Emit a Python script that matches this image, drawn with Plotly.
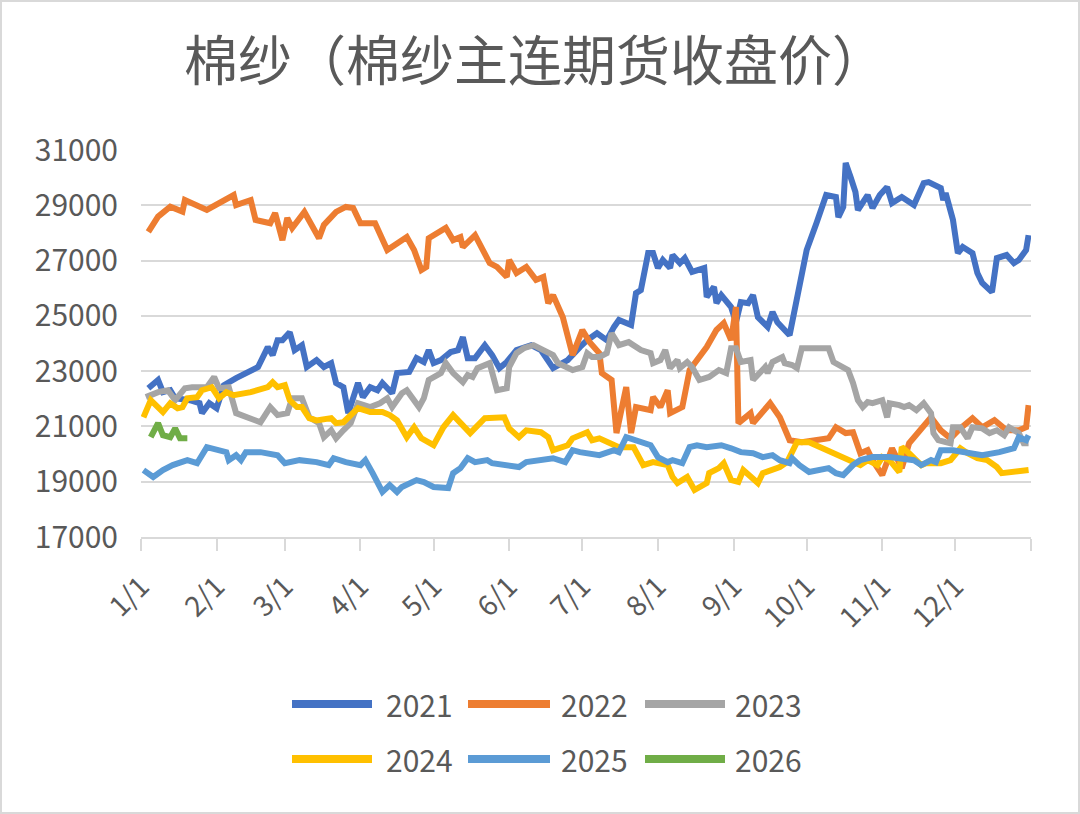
import plotly.graph_objects as go
import pandas as pd

# ---------------- data (day-of-year offset from Jan 1, close price) ----------------
series_names = ["2021", "2022", "2023", "2024", "2025", "2026"]
series_colors = ["#4472C4", "#ED7D31", "#A5A5A5", "#FFC000", "#5B9BD5", "#70AD47"]

s2021 = [(3,22380),(7,22680),(9,22240),(12,22310),(14,22020),(20,21950),(24,21840),(25,21480),
         (28,21840),(31,21660),(34,22490),(39,22750),(48,23150),(52,23870),(54,23580),(56,24120),
         (58,24120),(61,24410),(63,23760),(66,23940),(68,23150),(72,23400),(75,23150),(78,23290),
         (80,22570),(83,22420),(85,21480),(89,22570),(91,22060),(94,22420),(97,22310),(99,22570),
         (103,22200),(105,22930),(110,22970),(113,23470),(116,23330),(118,23760),(120,23290),
         (123,23400),(127,23690),(130,23760),(132,24230),(134,23470),(137,23470),(141,23940),
         (144,23580),(147,23110),(150,23330),(154,23760),(160,23940),(164,23760),(169,23110),
         (175,23400),(180,23870),(183,24120),(187,24370),(191,24120),(194,24600),(196,24850),
         (201,24670),(203,25820),(205,25930),(208,27270),(210,27270),(212,26730),(214,27020),
         (217,26730),(218,27200),(221,26910),(223,27090),(226,26590),(231,26730),(232,25680),
         (235,26050),(236,25460),(238,25750),(242,25320),(244,24770),(246,25500),(249,25460),
         (251,25750),(253,24950),(257,24600),(259,25140),(261,24770),(266,24300),(269,25680),
         (271,26410),(273,27380),(277,28350),(281,29370),(285,29300),(286,28570),(288,28940),
         (289,30530),(291,30020),(293,29480),(294,28830),(298,29370),(300,28900),(303,29370),
         (306,29660),(308,29080),(312,29300),(317,29010),(321,29800),(323,29840),(328,29620),
         (329,29190),(330,29440),(333,28470),(335,27270),(337,27490),(341,27270),(343,26550),
         (345,26190),(349,25860),(351,27090),(355,27200),(358,26910),(360,27020),(363,27380),
         (364,27920)]

s2022 = [(3,28040),(7,28590),(12,28950),(17,28770),(18,29190),(27,28830),(38,29370),(39,29010),
         (45,29190),(47,28470),(53,28350),(55,28720),(58,27740),(60,28540),(62,28180),(67,28760),
         (73,27810),(75,28290),(80,28760),(84,28940),(87,28900),(90,28350),(96,28350),(101,27380),
         (109,27850),(112,27380),(115,26660),(117,26770),(118,27810),(125,28180),(128,27740),
         (131,27850),(132,27490),(137,27920),(143,26910),(146,26770),(150,26410),(151,27020),
         (154,26550),(158,26770),(162,26300),(165,26410),(167,25460),(169,25750),(173,24950),
         (175,24230),(177,23580),(181,24490),(184,24050),(188,23650),(189,22930),(193,22680),
         (195,20760),(199,22420),(201,20760),(203,21700),(209,21590),(210,22060),(213,21700),
         (216,22310),(217,21480),(222,21700),(225,23040),(232,23870),(236,24490),(239,24740),
         (242,24120),(244,25320),(245,21120),(250,21480),(251,21120),(258,21840),(262,21330),
         (266,20500),(271,20430),(282,20570),(285,20970),(289,20760),(292,20790),(295,20030),
         (298,20140),(300,19780),(304,19240),(308,20210),(312,19490),(315,20390),(321,20970),
         (324,21330),(328,20860),(332,20570),(336,20930),(341,21300),(345,20970),(350,21230),
         (355,20860),(360,20860),(363,20970),(364,21770)]

s2023 = [(2,22060),(7,22240),(11,22310),(14,21950),(18,22380),(21,22420),(27,22420),(30,22790),
         (32,22380),(36,22420),(39,21480),(46,21220),(49,21150),(53,21700),(56,21410),(60,21480),
         (62,22020),(66,22020),(69,21330),(73,21120),(75,20610),(78,20860),(80,20570),(83,20860),
         (86,21120),(89,21840),(94,21700),(98,21840),(101,22020),(103,21700),(107,22200),
         (109,22310),(114,21700),(116,22020),(118,22680),(123,22930),(125,23290),(128,22930),
         (132,22600),(134,22860),(136,22790),(138,23110),(143,23290),(146,22310),(150,22380),
         (151,23150),(154,23650),(157,23830),(161,23940),(165,23760),(169,23580),(171,23290),
         (175,23110),(177,23040),(181,23150),(183,23650),(185,23510),(188,23510),(191,23650),
         (193,24370),(196,23940),(200,24050),(205,23760),(209,23650),(210,23290),(213,23400),
         (215,23760),(217,23110),(220,23400),(221,23110),(224,23330),(226,23150),(229,22680),
         (233,22790),(237,23040),(240,22930),(242,23830),(244,23830),(246,23330),(250,23400),
         (251,22680),(254,22930),(256,23150),(257,22930),(259,23330),(263,23510),(264,23290),
         (267,23220),(269,23110),(271,23830),(282,23830),(284,23330),(288,23110),(290,23040),
         (292,22570),(294,21950),(296,21700),(298,21880),(300,21840),(304,21950),(306,21330),
         (307,21840),(311,21770),(313,21700),(315,21770),(318,21590),(321,21840),(324,21480),
         (325,20760),(327,20500),(330,20430),(332,20390),(333,20970),(336,20970),(339,20570),
         (341,20970),(345,20930),(348,20760),(351,20860),(354,20680),(356,20970),(360,20760),
         (362,20390),(364,20390)]

s2024 = [(1,21330),(4,21950),(9,21520),(12,21840),(15,21660),(17,21700),(19,22020),(23,22060),
         (25,22310),(29,22420),(32,22020),(35,22240),(38,22130),(45,22240),(52,22420),(54,22600),
         (56,22420),(59,22490),(61,21950),(64,21700),(66,21700),(69,21300),(72,21220),(78,21300),
         (80,21120),(83,21150),(89,21660),(94,21520),(99,21520),(102,21410),(105,21220),
         (109,20610),(112,20970),(115,20570),(120,20320),(124,20970),(128,21410),(131,21120),
         (135,20760),(141,21300),(144,21330),(149,21330),(151,20930),(155,20610),(158,20860),
         (164,20790),(167,20610),(169,20140),(175,20320),(177,20570),(183,20790),(185,20500),
         (188,20570),(192,20390),(196,20250),(202,20250),(206,19600),(210,19710),(216,19600),
         (218,19170),(220,18950),(224,19170),(227,18700),(232,18950),(233,19310),(237,19490),
         (239,19670),(242,19060),(245,18990),(247,19420),(250,19170),(253,18950),(255,19310),
         (262,19530),(265,19710),(269,20430),(274,20430),(284,20030),(290,19780),(295,19600),
         (298,19780),(302,19600),(304,19890),(307,19780),(311,19350),(312,20250),(315,20030),
         (320,19600),(322,19670),(328,19670),(332,19780),(336,20210),(339,20030),(343,19850),
         (347,19780),(351,19530),(353,19310),(358,19350),(363,19420),(364,19420)]

s2025 = [(1,19420),(5,19170),(9,19420),(13,19600),(19,19780),(23,19670),(27,20250),(35,20070),
         (36,19780),(39,19960),(41,19780),(43,20070),(49,20070),(56,19960),(59,19670),(65,19780),
         (72,19710),(77,19600),(79,19850),(84,19710),(90,19600),(92,19780),(95,19310),(99,18630),
         (102,18880),(105,18630),(107,18810),(113,19060),(116,18990),(120,18810),(126,18770),
         (128,19310),(131,19490),(134,19850),(137,19710),(142,19780),(144,19670),(150,19600),
         (155,19530),(158,19710),(162,19780),(169,19850),(174,19710),(177,20140),(180,20070),
         (188,19960),(194,20140),(196,20070),(199,20610),(205,20430),(209,20320),(212,19890),
         (216,19710),(218,19780),(222,19670),(225,20250),(228,20320),(232,20250),(238,20320),
         (242,20210),(246,20070),(251,20030),(255,19890),(259,19960),(262,19780),(266,19670),
         (267,19850),(270,19600),(274,19350),(282,19490),(285,19310),(288,19240),(292,19600),
         (295,19780),(300,19890),(307,19890),(311,19850),(317,19780),(320,19600),(324,19780),
         (326,19710),(328,20140),(333,20140),(339,20030),(345,19960),(352,20070),(358,20210),
         (360,20610),(363,20500),(364,20680)]

s2026 = [(4,20610),(7,21120),(9,20680),(12,20610),(14,20930),(16,20570),(19,20570)]

all_series = [s2021, s2022, s2023, s2024, s2025, s2026]

month_labels = ["1/1", "2/1", "3/1", "4/1", "5/1", "6/1",
                "7/1", "8/1", "9/1", "10/1", "11/1", "12/1"]
title_text = "棉纱（棉纱主连期货收盘价）"
y_ticks = [17000, 19000, 21000, 23000, 25000, 27000, 29000, 31000]

# ---------------- figure ----------------
W, H = 1080, 814
L, R, T, B = 141, 49, 150, 277
PW, PH = W - L - R, H - T - B
TXT = "#595959"
GRID = "#D9D9D9"
FONT = "Noto Sans CJK SC"

def px_x(p):
    return (p - L) / PW

def px_y(p):
    return (H - B - p) / PH

base = pd.Timestamp("2021-01-01")

fig = go.Figure()
for name, color, data in zip(series_names, series_colors, all_series):
    fig.add_trace(go.Scatter(
        x=[base + pd.Timedelta(days=d) for d, _ in data],
        y=[v for _, v in data],
        mode="lines", name=name,
        line=dict(color=color, width=6),
        showlegend=False,
    ))

tickvals = [base + pd.DateOffset(months=i) for i in range(13)]
ticktext = month_labels + [""]

fig.update_layout(
    width=W, height=H,
    margin=dict(l=L, r=R, t=T, b=B, pad=0),
    paper_bgcolor="white", plot_bgcolor="white",
    font=dict(family=FONT, color=TXT),
    title=dict(text=title_text, x=535 / W, xanchor="center",
               y=1 - 62 / H, yanchor="middle", yref="container",
               font=dict(size=54, color=TXT, family=FONT)),
    xaxis=dict(type="date", range=[tickvals[0], tickvals[-1]],
               tickmode="array", tickvals=tickvals, ticktext=ticktext,
               tickangle=-45, ticks="outside", ticklen=12, tickwidth=2,
               tickcolor=GRID, showline=True, linecolor=GRID, linewidth=2,
               showgrid=False, zeroline=False, ticklabelstandoff=8,
               tickfont=dict(size=28, color=TXT, family=FONT)),
    yaxis=dict(range=[17000, 31000], tickmode="array", tickvals=y_ticks,
               tickformat="d", showgrid=True, gridcolor=GRID, gridwidth=2,
               zeroline=False, showline=False, ticks="",
               ticklabelstandoff=22,
               tickfont=dict(size=30, color=TXT, family=FONT)),
    hovermode=False,
)

# chart border
fig.add_shape(type="rect", xref="paper", yref="paper",
              x0=px_x(1), x1=px_x(W - 1), y0=px_y(H - 1), y1=px_y(1),
              line=dict(color=GRID, width=2), fillcolor="rgba(0,0,0,0)", layer="below")

# legend (two rows of three)
leg_rows = [704, 759]
leg_line_x = [(292, 372), (468, 550), (645, 725)]
leg_text_x = [384, 559, 733]
for i, (name, color) in enumerate(zip(series_names, series_colors)):
    row, col = divmod(i, 3)
    yy = px_y(leg_rows[row])
    x0, x1 = leg_line_x[col]
    fig.add_shape(type="line", xref="paper", yref="paper",
                  x0=px_x(x0), x1=px_x(x1), y0=yy, y1=yy,
                  line=dict(color=color, width=8))
    fig.add_annotation(xref="paper", yref="paper", x=px_x(leg_text_x[col]), y=yy,
                       text=name, showarrow=False, xanchor="left", yanchor="middle",
                       font=dict(size=30, color=TXT, family=FONT))

fig.write_html("out.html", config={"displayModeBar": False},
               post_script="document.body.style.margin='0';")
